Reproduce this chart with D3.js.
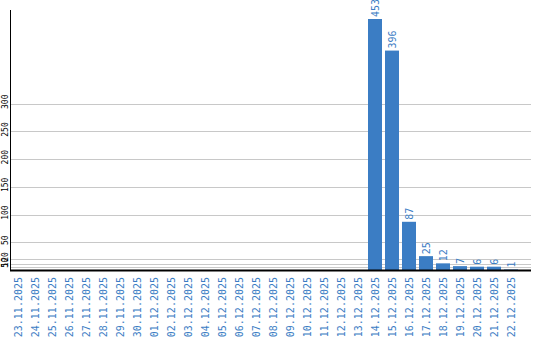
<!DOCTYPE html>
<html lang="en">
  <head>
    <meta charset="UTF-8" />
    <title>chart</title>
    <style>
      html,
      body {
        margin: 0;
        background: #fff;
      }
      #stage {
        width: 540px;
        height: 340px;
      }
      text {
        font-family: "DejaVu Sans Mono", monospace;
      }
    </style>
    <script src="https://cdn.jsdelivr.net/npm/d3@7"></script>
  </head>
  <body>
    <div id="stage"></div>
    <script>
      const dates = [
        "23.11.2025", "24.11.2025", "25.11.2025", "26.11.2025", "27.11.2025",
        "28.11.2025", "29.11.2025", "30.11.2025", "01.12.2025", "02.12.2025",
        "03.12.2025", "04.12.2025", "05.12.2025", "06.12.2025", "07.12.2025",
        "08.12.2025", "09.12.2025", "10.12.2025", "11.12.2025", "12.12.2025",
        "13.12.2025", "14.12.2025", "15.12.2025", "16.12.2025", "17.12.2025",
        "18.12.2025", "19.12.2025", "20.12.2025", "21.12.2025", "22.12.2025",
      ];
      const counts = [
        0, 0, 0, 0, 0, 0, 0, 0, 0, 0,
        0, 0, 0, 0, 0, 0, 0, 0, 0, 0,
        0, 453, 396, 87, 25, 12, 7, 6, 6, 1,
      ];
      const yTicks = [5, 10, 20, 50, 100, 150, 200, 250, 300];

      const blue = "#3b7dc4";
      const svg = d3
        .select("#stage")
        .append("svg")
        .attr("width", 540)
        .attr("height", 340);

      // 30 bands of 17px, bars 14px wide
      const x = d3
        .scaleBand()
        .domain(dates)
        .range([9.5, 519.5])
        .paddingInner(3 / 17)
        .paddingOuter(1.5 / 17);
      const y = d3.scaleLinear().domain([0, 453]).range([270, 19]);

      // grid
      svg
        .append("g")
        .selectAll("line")
        .data(yTicks)
        .join("line")
        .attr("x1", 10)
        .attr("x2", 531)
        .attr("y1", (d) => Math.round(y(d)) + 0.5)
        .attr("y2", (d) => Math.round(y(d)) + 0.5)
        .attr("stroke", "#c8c8c8")
        .attr("stroke-width", 1);

      // y labels
      svg
        .append("g")
        .selectAll("text")
        .data(yTicks)
        .join("text")
        .attr("transform", (d) => `translate(8,${y(d) - 2}) rotate(-90)`)
        .attr("text-anchor", "middle")
        .attr("font-size", 8)
        .attr("fill", "#000")
        .text((d) => d);

      // bars
      const data = dates.map((d, i) => ({ date: d, v: counts[i] }));
      svg
        .append("g")
        .selectAll("rect")
        .data(data.filter((d) => d.v > 0))
        .join("rect")
        .attr("x", (d) => x(d.date))
        .attr("width", x.bandwidth())
        .attr("y", (d) => y(d.v))
        .attr("height", (d) => y(0) - y(d.v))
        .attr("fill", blue);

      // value labels
      svg
        .append("g")
        .selectAll("text")
        .data(data.filter((d) => d.v > 0))
        .join("text")
        .attr(
          "transform",
          (d) =>
            `translate(${x(d.date) + x.bandwidth() / 2 + 4},${y(d.v) - 2}) rotate(-90)`
        )
        .attr("text-anchor", "start")
        .attr("font-size", 10)
        .attr("fill", blue)
        .text((d) => d.v);

      // axes
      svg
        .append("line")
        .attr("x1", 10.5)
        .attr("x2", 10.5)
        .attr("y1", 10)
        .attr("y2", 270)
        .attr("stroke", "#000");
      svg
        .append("line")
        .attr("x1", 10)
        .attr("x2", 531)
        .attr("y1", 270.5)
        .attr("y2", 270.5)
        .attr("stroke", "#000")
        .attr("stroke-width", 2);

      // x labels
      svg
        .append("g")
        .selectAll("text")
        .data(dates)
        .join("text")
        .attr(
          "transform",
          (d) => `translate(${x(d) + x.bandwidth() / 2 + 4},277) rotate(-90)`
        )
        .attr("text-anchor", "end")
        .attr("font-size", 10)
        .attr("fill", blue)
        .text((d) => d);
    </script>
  </body>
</html>
